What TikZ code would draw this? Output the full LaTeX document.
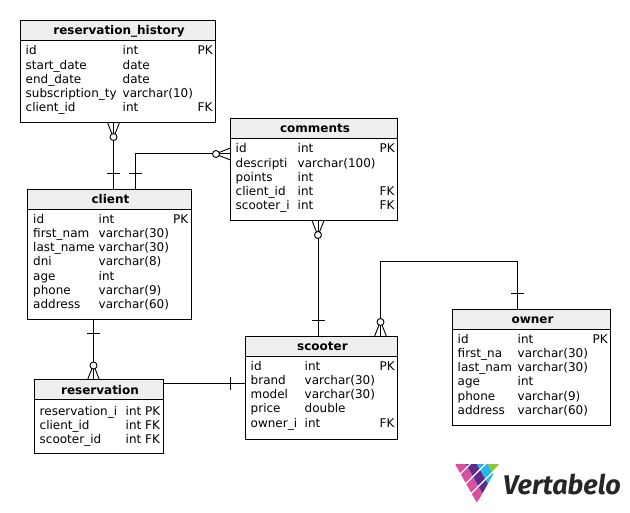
\documentclass[tikz,border=0pt]{standalone}
\usepackage{fontspec}
\setmainfont{DejaVu Sans}
\newfontfamily\logofont{Fira Sans}
\definecolor{headgray}{HTML}{EEEEEE}
\definecolor{logopink}{HTML}{D9509C}
\definecolor{logoviolet}{HTML}{5F2A8C}
\definecolor{logoblue}{HTML}{29B6E8}
\definecolor{logogreen}{HTML}{8CC63F}
\definecolor{logotext}{HTML}{262626}
\tikzset{
  table/.style = {draw, line width=1pt, minimum width=#1, inner sep=0pt, outer sep=0pt},
  head/.style = {table=#1, fill=headgray, minimum height=20pt, text height=11pt, text depth=2pt,
                 execute at begin node=\hspace*{2pt}, font=\fontsize{12}{14}\selectfont\bfseries},
  cell/.style = {anchor=base west, inner sep=0pt, font=\fontsize{12}{14}\selectfont},
  link/.style = {line width=1pt},
  crow/.pic = {
    \draw[line width=0.9pt] (0,-6) -- (11.5,-1.5);
    \draw[line width=0.9pt] (0,6) -- (11.5,1.5);
    \draw[link] (0,0) -- (11,0);
    \draw[line width=0.9pt, fill=white] (14.5,0) circle (3.5);
  },
  bar/.pic = {
    \draw[link] (0,-6.5) -- (0,6.5);
  }
}
% name, x of the three columns, y of first baseline, rows
\newcommand{\rows}[6]{
  \foreach \n/\t/\k [count=\i] in {#6} {
    \node[cell] (#1-n\i) at (#2, #5+14.1*\i-14.1) {\n};
    \node[cell] (#1-t\i) at (#3, #5+14.1*\i-14.1) {\t};
    \node[cell] (#1-k\i) at (#4, #5+14.1*\i-14.1) {\k};
  }
}

\begin{document}
\begin{tikzpicture}[x=1pt,y=-1pt]
	\useasboundingbox (0,0) rectangle (630,513);

	% Tables
	\node[table=195pt, minimum height=102pt] (history) at (118,71.5) {};
	\node[head=195pt] (history-h) at (118,30.5) {reservation\_history};
	\rows{history}{25.5}{122.5}{197.5}{55}{id/int/PK, start\_date/date/, end\_date/date/, subscription\_ty/varchar(10)/, client\_id/int/FK}

	\node[table=164pt, minimum height=130pt] (client) at (109.5,254.5) {};
	\node[head=164pt] (client-h) at (109.5,199.5) {client};
	\rows{client}{33}{98.5}{173}{223.7}{id/int/PK, first\_nam/varchar(30)/, last\_name/varchar(30)/, dni/varchar(8)/, age/int/, phone/varchar(9)/, address/varchar(60)/}

	\node[table=167pt, minimum height=102pt] (comments) at (314,169.5) {};
	\node[head=167pt] (comments-h) at (314,128.5) {comments};
	\rows{comments}{235.5}{297.5}{379.5}{153}{id/int/PK, descripti/varchar(100)/, points/int/, client\_id/int/FK, scooter\_i/int/FK}

	\node[table=129pt, minimum height=73pt] (reservation) at (99,416.5) {};
	\node[head=129pt] (reservation-h) at (99,390) {reservation};
	\rows{reservation}{39.5}{125.5}{145}{415.7}{reservation\_i/int/PK, client\_id/int/FK, scooter\_id/int/FK}

	\node[table=152pt, minimum height=103pt] (scooter) at (321.5,388) {};
	\node[head=152pt] (scooter-h) at (321.5,346.5) {scooter};
	\rows{scooter}{250.5}{304.5}{379.5}{370.7}{id/int/PK, brand/varchar(30)/, model/varchar(30)/, price/double/, owner\_i/int/FK}

	\node[table=158pt, minimum height=116pt] (owner) at (531.5,367.5) {};
	\node[head=158pt] (owner-h) at (531.5,319.5) {owner};
	\rows{owner}{457.5}{517.5}{592.5}{343.7}{id/int/PK, first\_na/varchar(30)/, last\_nam/varchar(30)/, age/int/, phone/varchar(9)/, address/varchar(60)/}

	% Connectors
	\draw[link] ([xshift=-4.5pt]history.south) -- ([xshift=4pt]client-h.north);
	\draw[link] ([xshift=26pt]client-h.north) |- ([yshift=15.5pt]comments.west);
	\draw[link] ([xshift=4pt]comments.south) -- ([xshift=-3.5pt]scooter-h.north);
	\draw[link] ([xshift=-16pt]client.south) -- ([xshift=-5.5pt]reservation-h.north);
	\draw[link] ([yshift=6pt]reservation-h.east) -- ([yshift=4pt]scooter.west);
	\draw[link] ([xshift=59pt]scooter-h.north) |- (517.5,261.5) -- ([xshift=-14pt]owner-h.north);

	% Crow feet
	\pic[rotate=-90] at (113.5,122.5) {crow};
	\pic[rotate=180] at (230.5,154) {crow};
	\pic[rotate=-90] at (318,220.5) {crow};
	\pic[rotate=90] at (93.5,380) {crow};
	\pic[rotate=90] at (380.5,336.5) {crow};

	% Bars
	\pic[rotate=90] at (113.5,174) {bar};
	\pic[rotate=90] at (135.5,174) {bar};
	\pic[rotate=90] at (318,320.5) {bar};
	\pic[rotate=90] at (93.5,334) {bar};
	\pic at (230.5,384) {bar};
	\pic[rotate=90] at (517.5,294) {bar};

	% Logo
	\begin{scope}
		\clip (455,464) -- (499,464) -- (477,503) -- cycle;
		\begin{scope}[shift={(455,464)}, x={(7pt,7pt)}, y={(5.5pt,-9.75pt)}]
			\foreach \a/\b/\c in {0/0/logopink, 1/0/logoviolet, 0/1/logopink, 1/1/logoviolet, 2/1/logoblue,
				0/2/logopink, 1/2/logoviolet, 2/2/logoblue, 3/2/logogreen, 0/3/logopink, 1/3/logoviolet, 2/3/logoblue}
				\fill[\c] (\a,\b+0.08) -- (\a+1,\b+0.08) -- (\a+1,\b+0.92) -- (\a,\b+0.92) -- cycle;
		\end{scope}
	\end{scope}
	\node[inner sep=0pt, anchor=base west, text=logotext, font=\logofont\fontsize{27}{30}\selectfont\bfseries\itshape] (logo) at (503,494) {Vertabelo};
\end{tikzpicture}
\end{document}
